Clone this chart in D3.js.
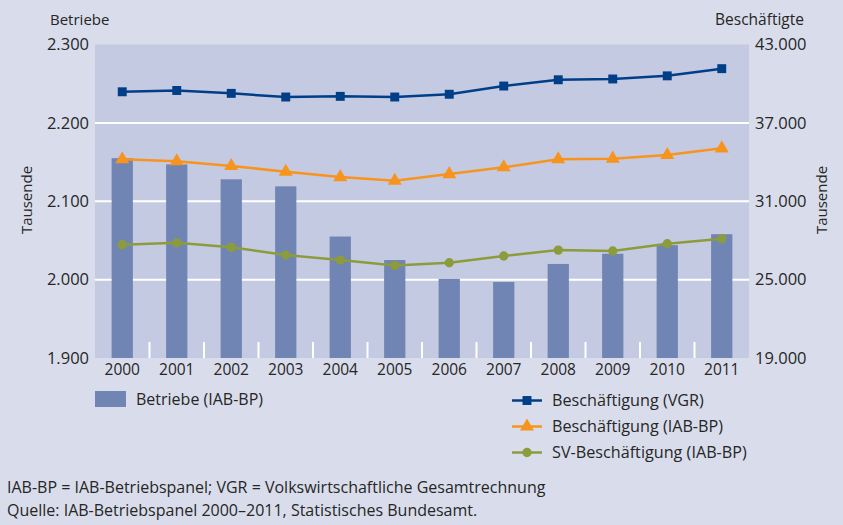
<!DOCTYPE html>
<html>
<head>
<meta charset="utf-8">
<script src="https://cdn.jsdelivr.net/npm/d3@7"></script>
<style>
  html, body { margin: 0; padding: 0; background: #d9ddeb; }
  svg { display: block; font-family: "Open Sans", sans-serif; }
</style>
</head>
<body>
<svg id="chart" width="843" height="525"></svg>
<script>
// data
const years = ['2000', '2001', '2002', '2003', '2004', '2005', '2006', '2007', '2008', '2009', '2010', '2011']
const betriebe = [2155, 2147, 2128, 2119, 2055, 2025, 2001, 1997, 2020, 2033, 2044, 2058]
const beschVGR = [39380, 39480, 39260, 38980, 39030, 38980, 39190, 39820, 40300, 40360, 40600, 41150]
const beschIAB = [34210, 34060, 33700, 33260, 32850, 32570, 33080, 33600, 34210, 34260, 34540, 35050]
const svBesch = [27670, 27820, 27470, 26880, 26500, 26090, 26290, 26810, 27260, 27190, 27750, 28130]
const leftTicks = [1900, 2000, 2100, 2200, 2300]
const rightTicks = [19000, 25000, 31000, 37000, 43000]

const colors = {
  bg: '#d9ddeb',
  plot: '#c5cae3',
  bar: '#7185b4',
  vgr: '#003f87',
  iab: '#f7941d',
  sv: '#8c9c3c',
  text: '#262626'
}

const de = d3.formatLocale({ decimal: ',', thousands: '.', grouping: [3], currency: ['', ' €'] })
const fmt = de.format(',d')

const svg = d3.select('#chart')

const margin = { left: 95, right: 749, top: 44.5, bottom: 358 }

const x = d3.scaleBand()
  .domain(years)
  .range([margin.left, margin.right])
  .padding(0)

const yL = d3.scaleLinear().domain([1900, 2300]).range([margin.bottom, margin.top])
const yR = d3.scaleLinear().domain([19000, 43000]).range([margin.bottom, margin.top])

// plot background
svg.append('rect')
  .attr('x', margin.left)
  .attr('y', margin.top)
  .attr('width', margin.right - margin.left)
  .attr('height', margin.bottom - margin.top)
  .attr('fill', colors.plot)

// gridlines (behind bars)
svg.append('g')
  .selectAll('line')
  .data(leftTicks.slice(1, -1))
  .enter().append('line')
  .attr('x1', margin.left)
  .attr('x2', margin.right)
  .attr('y1', d => yL(d))
  .attr('y2', d => yL(d))
  .attr('stroke', '#fff')
  .attr('stroke-width', 2)

// small tick marks between years
svg.append('g')
  .selectAll('line')
  .data(years.slice(1))
  .enter().append('line')
  .attr('x1', d => x(d))
  .attr('x2', d => x(d))
  .attr('y1', margin.bottom - 16)
  .attr('y2', margin.bottom)
  .attr('stroke', '#fff')
  .attr('stroke-width', 2)

// bars
const barW = x.bandwidth() * 0.39
svg.append('g')
  .selectAll('rect')
  .data(betriebe)
  .enter().append('rect')
  .attr('x', (d, i) => x(years[i]) + (x.bandwidth() - barW) / 2)
  .attr('y', d => yL(d))
  .attr('width', barW)
  .attr('height', d => margin.bottom - yL(d))
  .attr('fill', colors.bar)

// lines
const cx = i => x(years[i]) + x.bandwidth() / 2
const series = [
  { values: beschVGR, color: colors.vgr, symbol: d3.symbolSquare, size: 80 },
  { values: beschIAB, color: colors.iab, symbol: d3.symbolTriangle, size: 85 },
  { values: svBesch, color: colors.sv, symbol: d3.symbolCircle, size: 68 }
]

series.forEach(s => {
  const line = d3.line()
    .x((d, i) => cx(i))
    .y(d => yR(d))

  svg.append('path')
    .datum(s.values)
    .attr('d', line)
    .attr('fill', 'none')
    .attr('stroke', s.color)
    .attr('stroke-width', 2.5)

  svg.append('g')
    .selectAll('path')
    .data(s.values)
    .enter().append('path')
    .attr('transform', (d, i) => `translate(${cx(i)},${yR(d)})`)
    .attr('d', d3.symbol().type(s.symbol).size(s.size))
    .attr('fill', s.color)
})

// axis labels
svg.append('g')
  .selectAll('text')
  .data(leftTicks)
  .enter().append('text')
  .attr('x', 89)
  .attr('y', d => yL(d))
  .attr('dy', '0.35em')
  .attr('text-anchor', 'end')
  .attr('font-size', 16.5)
  .attr('fill', colors.text)
  .text(d => fmt(d))

svg.append('g')
  .selectAll('text')
  .data(rightTicks)
  .enter().append('text')
  .attr('x', 755)
  .attr('y', d => yR(d))
  .attr('dy', '0.35em')
  .attr('font-size', 16.5)
  .attr('fill', colors.text)
  .text(d => fmt(d))

svg.append('g')
  .selectAll('text')
  .data(years)
  .enter().append('text')
  .attr('x', d => x(d) + x.bandwidth() / 2)
  .attr('y', 375)
  .attr('text-anchor', 'middle')
  .attr('font-size', 15.5)
  .attr('fill', colors.text)
  .text(d => d)

// titles
svg.append('text')
  .attr('x', 50).attr('y', 25)
  .attr('font-size', 15)
  .attr('fill', colors.text)
  .text('Betriebe')

svg.append('text')
  .attr('x', 804).attr('y', 25)
  .attr('text-anchor', 'end')
  .attr('font-size', 15.5)
  .attr('fill', colors.text)
  .text('Beschäftigte')

svg.append('text')
  .attr('transform', 'translate(32,200) rotate(-90)')
  .attr('text-anchor', 'middle')
  .attr('font-size', 15)
  .attr('fill', colors.text)
  .text('Tausende')

svg.append('text')
  .attr('transform', 'translate(827,200) rotate(-90)')
  .attr('text-anchor', 'middle')
  .attr('font-size', 15)
  .attr('fill', colors.text)
  .text('Tausende')

// legend
svg.append('rect')
  .attr('x', 95).attr('y', 391)
  .attr('width', 31).attr('height', 16)
  .attr('fill', colors.bar)

svg.append('text')
  .attr('x', 136).attr('y', 405)
  .attr('font-size', 16)
  .attr('fill', colors.text)
  .text('Betriebe (IAB-BP)')

const legendItems = [
  { label: 'Beschäftigung (VGR)', s: series[0] },
  { label: 'Beschäftigung (IAB-BP)', s: series[1] },
  { label: 'SV-Beschäftigung (IAB-BP)', s: series[2] }
]

const lg = svg.append('g')
  .selectAll('g')
  .data(legendItems)
  .enter().append('g')
  .attr('transform', (d, i) => `translate(0,${400.5 + i * 26})`)

lg.append('line')
  .attr('x1', 512).attr('x2', 542)
  .attr('stroke', d => d.s.color)
  .attr('stroke-width', 2.5)

lg.append('path')
  .attr('transform', 'translate(527,0)')
  .attr('d', d => d3.symbol().type(d.s.symbol).size(d.s.size)())
  .attr('fill', d => d.s.color)

lg.append('text')
  .attr('x', 552)
  .attr('dy', '0.35em')
  .attr('font-size', 16.2)
  .attr('fill', colors.text)
  .text(d => d.label)

// footnotes
svg.append('text')
  .attr('x', 7).attr('y', 493)
  .attr('font-size', 16)
  .attr('fill', colors.text)
  .text('IAB-BP = IAB-Betriebspanel; VGR = Volkswirtschaftliche Gesamtrechnung')

svg.append('text')
  .attr('x', 7).attr('y', 516)
  .attr('font-size', 16)
  .attr('fill', colors.text)
  .text('Quelle: IAB-Betriebspanel 2000–2011, Statistisches Bundesamt.')
</script>
</body>
</html>
